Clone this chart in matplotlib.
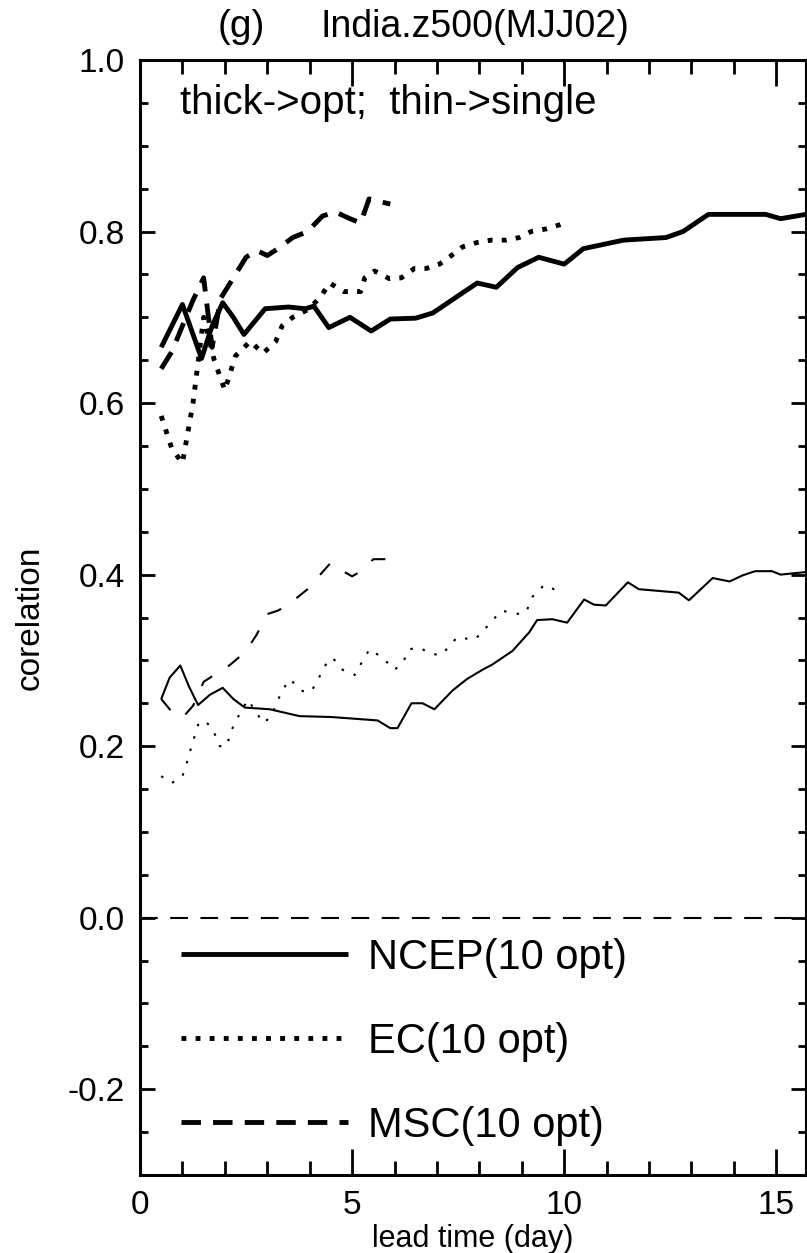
"""India z500 (MJJ02) correlation vs lead time"""

import matplotlib
matplotlib.use("Agg")
import matplotlib.pyplot as plt
from matplotlib.lines import Line2D
from matplotlib.ticker import MultipleLocator

FONT = ["Liberation Sans", "DejaVu Sans"]
NARROW = ["Liberation Sans Narrow", "Liberation Sans", "DejaVu Sans"]

# thick lines: optimal (10 opt) ensembles
ncep_opt_x = [0.5, 0.75, 1.0, 1.25, 1.45, 1.7, 1.95, 2.2, 2.45, 2.7, 2.95, 3.5, 3.9,
              4.1, 4.45, 4.95, 5.45, 5.9, 6.5, 6.9, 7.35, 7.95, 8.4, 8.9, 9.4, 10.0,
              10.45, 11.4, 12.4, 12.8, 13.4, 14.75, 15.1, 15.7]
ncep_opt_y = [0.665, 0.69, 0.715, 0.68, 0.652, 0.69, 0.717, 0.70, 0.68, 0.695, 0.71,
              0.712, 0.71, 0.713, 0.688, 0.70, 0.684, 0.698, 0.699, 0.705, 0.72, 0.74,
              0.735, 0.758, 0.77, 0.762, 0.78, 0.79, 0.793, 0.80, 0.82, 0.82, 0.815, 0.82]

ec_opt_x = [0.5, 0.75, 1.0, 1.25, 1.5, 1.75, 2.0, 2.25, 2.6, 2.9, 3.2, 3.35, 3.6, 4.0,
            4.3, 4.47, 4.8, 5.2, 5.3, 5.53, 5.88, 6.16, 6.47, 6.75, 7.06, 7.34, 7.6,
            7.93, 8.28, 8.63, 8.94, 9.22, 9.57, 9.9, 10.0]
ec_opt_y = [0.585, 0.547, 0.53, 0.60, 0.70, 0.65, 0.615, 0.655, 0.672, 0.658, 0.672,
            0.69, 0.70, 0.71, 0.727, 0.74, 0.73, 0.73, 0.746, 0.754, 0.745, 0.746, 0.757,
            0.757, 0.762, 0.772, 0.782, 0.787, 0.79, 0.79, 0.793, 0.80, 0.803, 0.808, 0.81]

msc_opt_x = [0.5, 0.75, 1.0, 1.25, 1.5, 1.7, 1.9, 2.2, 2.5, 2.75, 3.0, 3.25, 3.6, 3.95,
             4.3, 4.6, 4.95, 5.2, 5.4, 5.9]
msc_opt_y = [0.64, 0.66, 0.69, 0.72, 0.746, 0.665, 0.722, 0.746, 0.77, 0.778, 0.772,
             0.78, 0.793, 0.80, 0.818, 0.823, 0.815, 0.81, 0.838, 0.832]

# thin lines: single member
ncep_single_x = [0.5, 0.7, 0.95, 1.15, 1.37, 1.65, 1.95, 2.2, 2.47, 3.06, 3.76, 4.5,
                 5.6, 5.9, 6.07, 6.4, 6.66, 6.94, 7.37, 7.7, 8.07, 8.3, 8.78, 9.18,
                 9.36, 9.72, 10.07, 10.47, 10.7, 10.98, 11.5, 11.76, 12.7, 12.94, 13.5,
                 13.9, 14.2, 14.5, 14.9, 15.1, 15.7]
ncep_single_y = [0.255, 0.28, 0.294, 0.27, 0.248, 0.26, 0.268, 0.255, 0.245, 0.243,
                 0.235, 0.234, 0.23, 0.221, 0.221, 0.25, 0.25, 0.243, 0.265, 0.278,
                 0.289, 0.295, 0.311, 0.333, 0.347, 0.348, 0.344, 0.371, 0.365, 0.364,
                 0.391, 0.383, 0.379, 0.37, 0.396, 0.392, 0.399, 0.404, 0.404, 0.40, 0.403]

ec_single_x = [0.5, 0.75, 1.0, 1.1, 1.18, 1.37, 1.53, 1.72, 1.88, 2.04, 2.16, 2.3,
               2.54, 2.75, 2.9, 3.06, 3.2, 3.34, 3.53, 3.84, 4.04, 4.2, 4.4, 4.54,
               4.78, 5.06, 5.22, 5.41, 5.72, 6.0, 6.19, 6.35, 6.59, 6.87, 7.13, 7.29,
               7.48, 7.88, 8.07, 8.31, 8.54, 8.87, 9.1, 9.25, 9.53, 9.76, 10.0]
ec_single_y = [0.165, 0.157, 0.165, 0.18, 0.194, 0.225, 0.23, 0.219, 0.2, 0.2, 0.219,
               0.233, 0.254, 0.239, 0.227, 0.233, 0.247, 0.264, 0.278, 0.264, 0.264,
               0.278, 0.297, 0.303, 0.289, 0.283, 0.297, 0.313, 0.303, 0.289, 0.297,
               0.313, 0.315, 0.307, 0.307, 0.317, 0.327, 0.324, 0.333, 0.347, 0.358,
               0.354, 0.356, 0.374, 0.388, 0.383, 0.385]

msc_single_x = [0.5, 0.75, 1.0, 1.25, 1.5, 1.75, 2.0, 2.25, 2.5, 2.75, 3.0, 3.25, 3.5,
                3.8, 4.0, 4.25, 4.5, 4.75, 5.0, 5.25, 5.5, 5.95]
msc_single_y = [0.255, 0.24, 0.233, 0.247, 0.275, 0.283, 0.29, 0.30, 0.311, 0.33,
                0.354, 0.358, 0.365, 0.377, 0.385, 0.40, 0.414, 0.405, 0.398, 0.405,
                0.418, 0.418]

legend_labels = ["NCEP(10 opt)", "EC(10 opt)", "MSC(10 opt)"]

THICK = 3.5
THIN = 1.5
SOLID = "-"
DOT_THICK = (0, (1, 1.9))
DOT_THIN = (0, (1.2, 5))
DASH_THICK = (0, (4, 2.5))
DASH_THIN = (0, (7, 9))

fig = plt.figure(figsize=(8.07, 12.53), dpi=100)
ax = fig.add_axes([140 / 807, 78 / 1253, 666 / 807, 1115 / 1253])

kw = dict(color="k", solid_capstyle="butt", dash_capstyle="butt")
ax.plot(ncep_opt_x, ncep_opt_y, lw=THICK, ls=SOLID, **kw)
ax.plot(ec_opt_x, ec_opt_y, lw=THICK, ls=DOT_THICK, **kw)
ax.plot(msc_opt_x, msc_opt_y, lw=THICK, ls=DASH_THICK, **kw)
ax.plot(ncep_single_x, ncep_single_y, lw=THIN, ls=SOLID, **kw)
ax.plot(ec_single_x, ec_single_y, lw=THIN, ls=DOT_THIN, **kw)
ax.plot(msc_single_x, msc_single_y, lw=THIN, ls=DASH_THIN, **kw)

ax.axhline(0, color="k", lw=1.5, ls=(0, (8.5, 6)))

ax.set_xlim(0, 15.7)
ax.set_ylim(-0.3, 1.0)
ax.xaxis.set_major_locator(MultipleLocator(5))
ax.xaxis.set_minor_locator(MultipleLocator(1))
ax.yaxis.set_minor_locator(MultipleLocator(0.05))
ax.set_yticks([-0.2, 0.0, 0.2, 0.4, 0.6, 0.8, 1.0])
ax.set_yticklabels(["-0.2", "0.0", "0.2", "0.4", "0.6", "0.8", "1.0"])

for s in ax.spines.values():
    s.set_linewidth(2.2)

ax.tick_params(axis="both", which="both", direction="in", top=True, right=True,
               width=2)
ax.tick_params(axis="x", which="major", length=19, pad=11, labelsize=24)
ax.tick_params(axis="x", which="minor", length=10)
ax.tick_params(axis="y", which="major", length=11, pad=11, labelsize=24)
ax.tick_params(axis="y", which="minor", length=6)
for lab in ax.get_xticklabels() + ax.get_yticklabels():
    lab.set_family(FONT)

ax.set_xlabel("lead time (day)", fontsize=22, family=FONT, labelpad=2)
ax.set_ylabel("corelation", fontsize=24, family=FONT, labelpad=16)

ax.text(0.94, 0.95, "thick->opt;  thin->single", fontsize=29, family=FONT,
        ha="left", va="center")

fig.text(218 / 807, 1 - 27 / 1253, "(g)", fontsize=28, family=NARROW,
         ha="left", va="center")
fig.text(320 / 807, 1 - 27 / 1253, "India.z500(MJJ02)", fontsize=27, family=NARROW,
         ha="left", va="center")

handles = [
    Line2D([], [], color="k", lw=THICK, ls=SOLID, solid_capstyle="butt"),
    Line2D([], [], color="k", lw=THICK, ls=DOT_THICK, dash_capstyle="butt"),
    Line2D([], [], color="k", lw=THICK, ls=DASH_THICK, dash_capstyle="butt"),
]
ax.legend(handles, legend_labels, loc="upper left",
          bbox_to_anchor=((181 - 140) / 666, (1175 - 938) / 1115),
          frameon=False, borderpad=0, borderaxespad=0, handlelength=4.0,
          handletextpad=0.5, labelspacing=1.05,
          prop={"family": FONT, "size": 30})

fig.savefig("out.png", dpi=100)
